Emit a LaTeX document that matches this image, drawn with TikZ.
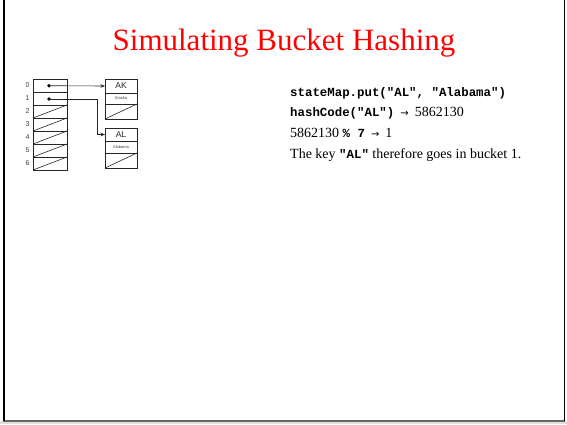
\documentclass[tikz,border=0pt]{standalone}
\usepackage{fontspec}
\setmainfont{Liberation Serif}
\setmonofont{Liberation Mono}
\setsansfont{Liberation Sans}
\newfontfamily\symfont{DejaVu Sans}
\usetikzlibrary{arrows.meta}
\tikzset{
  cell/.style={draw=black!85, line width=0.6pt, minimum width=34pt, minimum height=13pt, inner sep=0pt, outer sep=0pt},
  kcell/.style={draw=black!85, line width=0.6pt, minimum width=32pt, inner sep=0pt, outer sep=0pt},
  idx/.style={font=\sffamily\fontsize{7}{7}\selectfont, text=black!75, inner sep=0pt},
  ptr/.style={draw=black!85, line width=0.6pt, -{Stealth[length=4.5pt,width=3.5pt]}},
  dotn/.style={circle, fill=black, inner sep=0pt, minimum size=3.8pt},
  txt/.style={anchor=base west, inner sep=0pt, font=\fontsize{14}{16}\selectfont},
  nullline/.style={draw=black!85, line width=0.6pt}
}
\newcommand{\arr}{\hspace{2.5pt}{\symfont\fontsize{10}{10}\selectfont →}\hspace{2.5pt}}
\newcommand{\mono}[1]{{\fontsize{12.4}{14}\selectfont\ttfamily\bfseries #1}}
\begin{document}
\begin{tikzpicture}[x=1pt,y=-1pt]
\useasboundingbox (0,0) rectangle (567,424);
\fill[white] (0,0) rectangle (567,424);
\fill[black!12] (0,421) rectangle (567,424);
% frame
\draw[black!60, line width=1.5pt] (3,421.2) -- (564.5,421.2);
\draw[black, line width=2pt] (3.5,0) -- (3.5,421);
\draw[black, line width=1pt] (564.5,0) -- (564.5,421);
% title
\node[text=red, font=\fontsize{31}{31}\selectfont, inner sep=0pt] (title) at (284,43.5) {Simulating Bucket Hashing};
% bucket array
\foreach \i in {0,...,6} {
  \node[cell] (b\i) at (50,{85.5+13*\i}) {};
  \node[idx] (n\i) at (27.5,{85.5+13*\i}) {\i};
}
\foreach \i in {2,...,6} {
  \draw[nullline] (b\i.south west) -- (b\i.north east);
}
\node[dotn] (d0) at (49,85.7) {};
\node[dotn] (d1) at (49,99) {};
% AK entry
\node[kcell, minimum height=14pt, font=\sffamily\fontsize{8.5}{8.5}\selectfont, text=black!85] (akk) at (121,86) {AK};
\node[kcell, minimum height=11pt, anchor=north, font=\sffamily\fontsize{4}{4}\selectfont, text=black!75] (akv) at (akk.south) {Alaska};
\node[kcell, minimum height=15pt, anchor=north] (akn) at (akv.south) {};
\draw[nullline] (akn.south west) -- (akn.north east);
% AL entry
\node[kcell, minimum height=13pt, font=\sffamily\fontsize{8.5}{8.5}\selectfont, text=black!85] (alk) at (121,134.5) {AL};
\node[kcell, minimum height=12pt, anchor=north, font=\sffamily\fontsize{4}{4}\selectfont, text=black!75] (alv) at (alk.south) {Alabama};
\node[kcell, minimum height=15pt, anchor=north] (aln) at (alv.south) {};
\draw[nullline] (aln.south west) -- (aln.north east);
% pointers
\draw[ptr] (d0.center) -- (akk.west);
\coordinate (bend) at (97,134.5);
\draw[ptr] (d1.center) -| (bend) -- (alk.west);
% text
\node[txt] (l1) at (290,96.5) {\mono{stateMap.put("AL", "Alabama")}};
\node[txt] (l2) at (290,116.5) {\mono{hashCode("AL")} \arr\ 5862130};
\node[txt] (l3) at (290,137) {5862130 \mono{\% 7} \arr\ 1};
\node[txt] (l4) at (290,158.5) {The key \mono{"AL"} therefore goes in bucket 1.};
\end{tikzpicture}
\end{document}
